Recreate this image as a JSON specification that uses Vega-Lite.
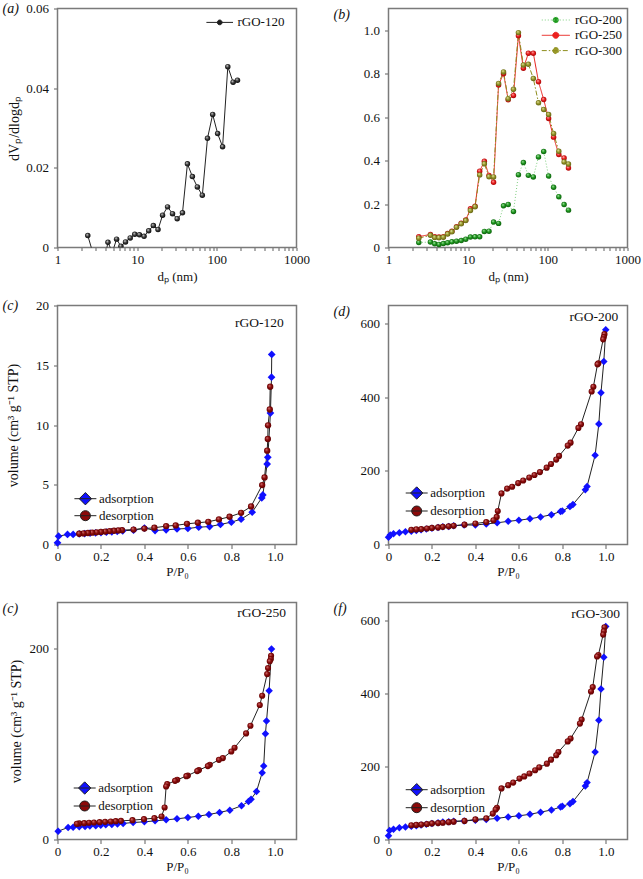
{
 "$schema": "https://vega.github.io/schema/vega-lite/v6.json",
 "background": "white",
 "padding": {"left": 1.5, "top": 0.5, "right": 1, "bottom": 0},
 "datasets": {
  "psd_a": [{"d":2.4,"v":0.003},{"d":3.36,"v":-0.007},{"d":3.8,"v":-0.004},{"d":4.3,"v":0.0013},{"d":4.88,"v":-0.0012},{"d":5.52,"v":0.0021},{"d":6.25,"v":0.0003},{"d":7.14,"v":0.0014},{"d":8.18,"v":0.0024},{"d":9.33,"v":0.0033},{"d":10.68,"v":0.0032},{"d":12.2,"v":0.0028},{"d":13.95,"v":0.0042},{"d":15.97,"v":0.0055},{"d":18.27,"v":0.0045},{"d":20.85,"v":0.0081},{"d":24.08,"v":0.0102},{"d":27.79,"v":0.0085},{"d":31.8,"v":0.0072},{"d":37.04,"v":0.0087},{"d":42.75,"v":0.021},{"d":49.35,"v":0.0178},{"d":56.98,"v":0.0152},{"d":65.77,"v":0.0131},{"d":76.34,"v":0.0274},{"d":88.7,"v":0.0334},{"d":102.3,"v":0.0286},{"d":118.1,"v":0.0253},{"d":137.4,"v":0.0454},{"d":160,"v":0.0415},{"d":181.6,"v":0.042}],
  "psd_b": [
   {"s":"rGO-200","d":2.4,"v":0.023},{"s":"rGO-200","d":3.36,"v":0.025},{"s":"rGO-200","d":3.8,"v":0.017},{"s":"rGO-200","d":4.3,"v":0.014},{"s":"rGO-200","d":4.88,"v":0.018},{"s":"rGO-200","d":5.52,"v":0.022},{"s":"rGO-200","d":6.25,"v":0.026},{"s":"rGO-200","d":7.14,"v":0.029},{"s":"rGO-200","d":8.18,"v":0.032},{"s":"rGO-200","d":9.33,"v":0.038},{"s":"rGO-200","d":10.68,"v":0.048},{"s":"rGO-200","d":12.2,"v":0.049},{"s":"rGO-200","d":13.95,"v":0.049},{"s":"rGO-200","d":15.97,"v":0.074},{"s":"rGO-200","d":18.27,"v":0.075},{"s":"rGO-200","d":20.85,"v":0.117},{"s":"rGO-200","d":24.08,"v":0.111},{"s":"rGO-200","d":27.79,"v":0.192},{"s":"rGO-200","d":31.8,"v":0.198},{"s":"rGO-200","d":37.04,"v":0.166},{"s":"rGO-200","d":42.75,"v":0.335},{"s":"rGO-200","d":49.35,"v":0.391},{"s":"rGO-200","d":56.98,"v":0.332},{"s":"rGO-200","d":65.77,"v":0.325},{"s":"rGO-200","d":76.34,"v":0.417},{"s":"rGO-200","d":88.7,"v":0.442},{"s":"rGO-200","d":102.3,"v":0.329},{"s":"rGO-200","d":118.1,"v":0.277},{"s":"rGO-200","d":137.4,"v":0.234},{"s":"rGO-200","d":160,"v":0.198},{"s":"rGO-200","d":181.6,"v":0.172},
   {"s":"rGO-250","d":2.4,"v":0.05},{"s":"rGO-250","d":3.36,"v":0.06},{"s":"rGO-250","d":3.8,"v":0.05},{"s":"rGO-250","d":4.3,"v":0.048},{"s":"rGO-250","d":4.88,"v":0.05},{"s":"rGO-250","d":5.52,"v":0.064},{"s":"rGO-250","d":6.25,"v":0.075},{"s":"rGO-250","d":7.14,"v":0.096},{"s":"rGO-250","d":8.18,"v":0.112},{"s":"rGO-250","d":9.33,"v":0.127},{"s":"rGO-250","d":10.68,"v":0.178},{"s":"rGO-250","d":12.2,"v":0.19},{"s":"rGO-250","d":13.95,"v":0.351},{"s":"rGO-250","d":15.97,"v":0.397},{"s":"rGO-250","d":18.27,"v":0.332},{"s":"rGO-250","d":20.85,"v":0.3},{"s":"rGO-250","d":24.08,"v":0.748},{"s":"rGO-250","d":27.79,"v":0.8},{"s":"rGO-250","d":31.8,"v":0.68},{"s":"rGO-250","d":37.04,"v":0.7},{"s":"rGO-250","d":42.75,"v":0.975},{"s":"rGO-250","d":49.35,"v":0.825},{"s":"rGO-250","d":56.98,"v":0.894},{"s":"rGO-250","d":65.77,"v":0.894},{"s":"rGO-250","d":76.34,"v":0.763},{"s":"rGO-250","d":88.7,"v":0.681},{"s":"rGO-250","d":102.3,"v":0.594},{"s":"rGO-250","d":118.1,"v":0.508},{"s":"rGO-250","d":137.4,"v":0.428},{"s":"rGO-250","d":160,"v":0.412},{"s":"rGO-250","d":181.6,"v":0.366},
   {"s":"rGO-300","d":2.4,"v":0.043},{"s":"rGO-300","d":3.36,"v":0.056},{"s":"rGO-300","d":3.8,"v":0.046},{"s":"rGO-300","d":4.3,"v":0.045},{"s":"rGO-300","d":4.88,"v":0.047},{"s":"rGO-300","d":5.52,"v":0.062},{"s":"rGO-300","d":6.25,"v":0.072},{"s":"rGO-300","d":7.14,"v":0.093},{"s":"rGO-300","d":8.18,"v":0.109},{"s":"rGO-300","d":9.33,"v":0.124},{"s":"rGO-300","d":10.68,"v":0.17},{"s":"rGO-300","d":12.2,"v":0.188},{"s":"rGO-300","d":13.95,"v":0.334},{"s":"rGO-300","d":15.97,"v":0.385},{"s":"rGO-300","d":18.27,"v":0.326},{"s":"rGO-300","d":20.85,"v":0.325},{"s":"rGO-300","d":24.08,"v":0.755},{"s":"rGO-300","d":27.79,"v":0.808},{"s":"rGO-300","d":31.8,"v":0.685},{"s":"rGO-300","d":37.04,"v":0.728},{"s":"rGO-300","d":42.75,"v":0.989},{"s":"rGO-300","d":49.35,"v":0.84},{"s":"rGO-300","d":56.98,"v":0.843},{"s":"rGO-300","d":65.77,"v":0.778},{"s":"rGO-300","d":76.34,"v":0.666},{"s":"rGO-300","d":88.7,"v":0.635},{"s":"rGO-300","d":102.3,"v":0.612},{"s":"rGO-300","d":118.1,"v":0.525},{"s":"rGO-300","d":137.4,"v":0.443},{"s":"rGO-300","d":160,"v":0.394},{"s":"rGO-300","d":181.6,"v":0.384}
  ],
  "iso_c": [
   {"s":"adsorption","p":0,"v":0.14},{"s":"adsorption","p":0.005,"v":0.7},{"s":"adsorption","p":0.046,"v":0.84},{"s":"adsorption","p":0.072,"v":0.84},{"s":"adsorption","p":0.1,"v":0.88},{"s":"adsorption","p":0.125,"v":0.92},{"s":"adsorption","p":0.15,"v":0.96},{"s":"adsorption","p":0.175,"v":0.98},{"s":"adsorption","p":0.2,"v":1.0},{"s":"adsorption","p":0.225,"v":1.03},{"s":"adsorption","p":0.25,"v":1.06},{"s":"adsorption","p":0.275,"v":1.1},{"s":"adsorption","p":0.3,"v":1.15},{"s":"adsorption","p":0.35,"v":1.2},{"s":"adsorption","p":0.4,"v":1.38},{"s":"adsorption","p":0.449,"v":1.17},{"s":"adsorption","p":0.5,"v":1.23},{"s":"adsorption","p":0.55,"v":1.3},{"s":"adsorption","p":0.6,"v":1.34},{"s":"adsorption","p":0.65,"v":1.45},{"s":"adsorption","p":0.7,"v":1.5},{"s":"adsorption","p":0.75,"v":1.68},{"s":"adsorption","p":0.8,"v":1.87},{"s":"adsorption","p":0.845,"v":2.12},{"s":"adsorption","p":0.896,"v":2.7},{"s":"adsorption","p":0.94,"v":3.9},{"s":"adsorption","p":0.945,"v":4.15},{"s":"adsorption","p":0.965,"v":6.73},{"s":"adsorption","p":0.968,"v":7.3},{"s":"adsorption","p":0.98,"v":11.0},{"s":"adsorption","p":0.985,"v":14.0},{"s":"adsorption","p":0.986,"v":15.9},
   {"s":"desorption","p":0.979,"v":13.2},{"s":"desorption","p":0.977,"v":11.3},{"s":"desorption","p":0.969,"v":9.97},{"s":"desorption","p":0.968,"v":8.83},{"s":"desorption","p":0.965,"v":7.85},{"s":"desorption","p":0.953,"v":5.61},{"s":"desorption","p":0.942,"v":4.97},{"s":"desorption","p":0.891,"v":3.18},{"s":"desorption","p":0.845,"v":2.65},{"s":"desorption","p":0.792,"v":2.32},{"s":"desorption","p":0.743,"v":2.1},{"s":"desorption","p":0.694,"v":1.9},{"s":"desorption","p":0.646,"v":1.82},{"s":"desorption","p":0.596,"v":1.73},{"s":"desorption","p":0.544,"v":1.6},{"s":"desorption","p":0.5,"v":1.54},{"s":"desorption","p":0.446,"v":1.4},{"s":"desorption","p":0.4,"v":1.33},{"s":"desorption","p":0.35,"v":1.25},{"s":"desorption","p":0.297,"v":1.2},{"s":"desorption","p":0.28,"v":1.18},{"s":"desorption","p":0.26,"v":1.15},{"s":"desorption","p":0.24,"v":1.12},{"s":"desorption","p":0.22,"v":1.08},{"s":"desorption","p":0.2,"v":1.05},{"s":"desorption","p":0.18,"v":1.02},{"s":"desorption","p":0.16,"v":0.99},{"s":"desorption","p":0.14,"v":0.96},{"s":"desorption","p":0.12,"v":0.93},{"s":"desorption","p":0.1,"v":0.9}
  ],
  "iso_d": [
   {"s":"adsorption","p":0,"v":20},{"s":"adsorption","p":0.008,"v":26},{"s":"adsorption","p":0.023,"v":29},{"s":"adsorption","p":0.05,"v":32},{"s":"adsorption","p":0.078,"v":34.5},{"s":"adsorption","p":0.105,"v":36},{"s":"adsorption","p":0.128,"v":38},{"s":"adsorption","p":0.15,"v":40},{"s":"adsorption","p":0.174,"v":42},{"s":"adsorption","p":0.2,"v":44.5},{"s":"adsorption","p":0.228,"v":46},{"s":"adsorption","p":0.25,"v":48},{"s":"adsorption","p":0.277,"v":49},{"s":"adsorption","p":0.3,"v":51},{"s":"adsorption","p":0.348,"v":53},{"s":"adsorption","p":0.4,"v":53},{"s":"adsorption","p":0.45,"v":56},{"s":"adsorption","p":0.5,"v":59},{"s":"adsorption","p":0.551,"v":63},{"s":"adsorption","p":0.6,"v":66},{"s":"adsorption","p":0.651,"v":70},{"s":"adsorption","p":0.7,"v":75},{"s":"adsorption","p":0.75,"v":81},{"s":"adsorption","p":0.792,"v":90},{"s":"adsorption","p":0.8,"v":91},{"s":"adsorption","p":0.835,"v":103},{"s":"adsorption","p":0.849,"v":109},{"s":"adsorption","p":0.906,"v":149},{"s":"adsorption","p":0.914,"v":158},{"s":"adsorption","p":0.951,"v":243},{"s":"adsorption","p":0.968,"v":328},{"s":"adsorption","p":0.978,"v":413},{"s":"adsorption","p":0.991,"v":498},{"s":"adsorption","p":1.0,"v":584},
   {"s":"desorption","p":0.994,"v":572},{"s":"desorption","p":0.991,"v":564},{"s":"desorption","p":0.988,"v":558},{"s":"desorption","p":0.966,"v":493},{"s":"desorption","p":0.962,"v":490},{"s":"desorption","p":0.943,"v":429},{"s":"desorption","p":0.935,"v":416},{"s":"desorption","p":0.886,"v":327},{"s":"desorption","p":0.874,"v":317},{"s":"desorption","p":0.838,"v":277},{"s":"desorption","p":0.825,"v":269},{"s":"desorption","p":0.785,"v":241},{"s":"desorption","p":0.772,"v":231},{"s":"desorption","p":0.748,"v":219},{"s":"desorption","p":0.728,"v":209},{"s":"desorption","p":0.697,"v":197},{"s":"desorption","p":0.672,"v":189},{"s":"desorption","p":0.648,"v":182},{"s":"desorption","p":0.62,"v":174},{"s":"desorption","p":0.597,"v":167},{"s":"desorption","p":0.569,"v":157},{"s":"desorption","p":0.546,"v":152},{"s":"desorption","p":0.52,"v":139},{"s":"desorption","p":0.503,"v":91},{"s":"desorption","p":0.498,"v":75},{"s":"desorption","p":0.483,"v":66},{"s":"desorption","p":0.45,"v":61},{"s":"desorption","p":0.4,"v":57},{"s":"desorption","p":0.35,"v":54},{"s":"desorption","p":0.3,"v":51},{"s":"desorption","p":0.277,"v":49.5},{"s":"desorption","p":0.25,"v":48},{"s":"desorption","p":0.228,"v":46.5},{"s":"desorption","p":0.2,"v":45},{"s":"desorption","p":0.177,"v":43.5},{"s":"desorption","p":0.151,"v":42},{"s":"desorption","p":0.128,"v":41},{"s":"desorption","p":0.105,"v":40}
  ],
  "iso_e": [
   {"s":"adsorption","p":0.003,"v":8.7},{"s":"adsorption","p":0.049,"v":12.6},{"s":"adsorption","p":0.072,"v":12.9},{"s":"adsorption","p":0.1,"v":13.3},{"s":"adsorption","p":0.127,"v":13.6},{"s":"adsorption","p":0.149,"v":14},{"s":"adsorption","p":0.176,"v":14.3},{"s":"adsorption","p":0.199,"v":15},{"s":"adsorption","p":0.222,"v":15.4},{"s":"adsorption","p":0.25,"v":15.7},{"s":"adsorption","p":0.276,"v":16.1},{"s":"adsorption","p":0.302,"v":16.8},{"s":"adsorption","p":0.348,"v":17.8},{"s":"adsorption","p":0.4,"v":18.5},{"s":"adsorption","p":0.449,"v":19.5},{"s":"adsorption","p":0.5,"v":20.6},{"s":"adsorption","p":0.55,"v":21.6},{"s":"adsorption","p":0.6,"v":23},{"s":"adsorption","p":0.648,"v":24.4},{"s":"adsorption","p":0.697,"v":26.2},{"s":"adsorption","p":0.746,"v":28.3},{"s":"adsorption","p":0.793,"v":30.7},{"s":"adsorption","p":0.847,"v":35.3},{"s":"adsorption","p":0.879,"v":39.8},{"s":"adsorption","p":0.891,"v":42.2},{"s":"adsorption","p":0.916,"v":50.3},{"s":"adsorption","p":0.942,"v":69.8},{"s":"adsorption","p":0.949,"v":76.8},{"s":"adsorption","p":0.957,"v":110.6},{"s":"adsorption","p":0.962,"v":123.9},{"s":"adsorption","p":0.974,"v":155.7},{"s":"adsorption","p":0.985,"v":199.3},
   {"s":"desorption","p":0.983,"v":192.3},{"s":"desorption","p":0.982,"v":188.8},{"s":"desorption","p":0.977,"v":186.4},{"s":"desorption","p":0.969,"v":179.4},{"s":"desorption","p":0.965,"v":173.1},{"s":"desorption","p":0.942,"v":150.4},{"s":"desorption","p":0.931,"v":140.7},{"s":"desorption","p":0.888,"v":119},{"s":"desorption","p":0.868,"v":111},{"s":"desorption","p":0.815,"v":96},{"s":"desorption","p":0.8,"v":92.1},{"s":"desorption","p":0.761,"v":85.2},{"s":"desorption","p":0.743,"v":83.4},{"s":"desorption","p":0.701,"v":78.2},{"s":"desorption","p":0.692,"v":76.8},{"s":"desorption","p":0.651,"v":72.6},{"s":"desorption","p":0.643,"v":71.6},{"s":"desorption","p":0.6,"v":67},{"s":"desorption","p":0.593,"v":66.3},{"s":"desorption","p":0.551,"v":62.5},{"s":"desorption","p":0.541,"v":61.4},{"s":"desorption","p":0.505,"v":57.9},{"s":"desorption","p":0.5,"v":55.5},{"s":"desorption","p":0.493,"v":33.5},{"s":"desorption","p":0.479,"v":24.1},{"s":"desorption","p":0.446,"v":22.3},{"s":"desorption","p":0.398,"v":21.3},{"s":"desorption","p":0.345,"v":20.2},{"s":"desorption","p":0.292,"v":19.5},{"s":"desorption","p":0.268,"v":19.2},{"s":"desorption","p":0.245,"v":18.8},{"s":"desorption","p":0.219,"v":18.5},{"s":"desorption","p":0.194,"v":18.1},{"s":"desorption","p":0.168,"v":17.8},{"s":"desorption","p":0.145,"v":17.5},{"s":"desorption","p":0.123,"v":17.1},{"s":"desorption","p":0.1,"v":16.8},{"s":"desorption","p":0.089,"v":16.4}
  ],
  "iso_f": [
   {"s":"adsorption","p":0,"v":10},{"s":"adsorption","p":0.005,"v":25},{"s":"adsorption","p":0.023,"v":28},{"s":"adsorption","p":0.05,"v":32},{"s":"adsorption","p":0.078,"v":34.5},{"s":"adsorption","p":0.105,"v":36},{"s":"adsorption","p":0.128,"v":38},{"s":"adsorption","p":0.15,"v":40},{"s":"adsorption","p":0.174,"v":42},{"s":"adsorption","p":0.2,"v":44},{"s":"adsorption","p":0.228,"v":46},{"s":"adsorption","p":0.25,"v":48},{"s":"adsorption","p":0.277,"v":49},{"s":"adsorption","p":0.3,"v":50},{"s":"adsorption","p":0.348,"v":51},{"s":"adsorption","p":0.4,"v":53},{"s":"adsorption","p":0.45,"v":55},{"s":"adsorption","p":0.5,"v":58},{"s":"adsorption","p":0.551,"v":62},{"s":"adsorption","p":0.6,"v":65},{"s":"adsorption","p":0.651,"v":69},{"s":"adsorption","p":0.7,"v":75},{"s":"adsorption","p":0.75,"v":81},{"s":"adsorption","p":0.792,"v":89},{"s":"adsorption","p":0.8,"v":91},{"s":"adsorption","p":0.835,"v":98},{"s":"adsorption","p":0.849,"v":104},{"s":"adsorption","p":0.906,"v":147},{"s":"adsorption","p":0.914,"v":156},{"s":"adsorption","p":0.951,"v":240},{"s":"adsorption","p":0.968,"v":327},{"s":"adsorption","p":0.978,"v":413},{"s":"adsorption","p":0.991,"v":500},{"s":"adsorption","p":1.0,"v":584},
   {"s":"desorption","p":0.994,"v":582},{"s":"desorption","p":0.991,"v":571},{"s":"desorption","p":0.988,"v":562},{"s":"desorption","p":0.966,"v":506},{"s":"desorption","p":0.96,"v":502},{"s":"desorption","p":0.94,"v":418},{"s":"desorption","p":0.932,"v":406},{"s":"desorption","p":0.889,"v":329},{"s":"desorption","p":0.881,"v":318},{"s":"desorption","p":0.838,"v":277},{"s":"desorption","p":0.825,"v":269},{"s":"desorption","p":0.782,"v":240},{"s":"desorption","p":0.772,"v":231},{"s":"desorption","p":0.748,"v":219},{"s":"desorption","p":0.729,"v":208},{"s":"desorption","p":0.694,"v":198},{"s":"desorption","p":0.675,"v":190},{"s":"desorption","p":0.649,"v":181},{"s":"desorption","p":0.625,"v":173},{"s":"desorption","p":0.603,"v":167},{"s":"desorption","p":0.574,"v":156},{"s":"desorption","p":0.551,"v":149},{"s":"desorption","p":0.52,"v":140},{"s":"desorption","p":0.499,"v":87},{"s":"desorption","p":0.493,"v":82},{"s":"desorption","p":0.48,"v":71},{"s":"desorption","p":0.45,"v":58},{"s":"desorption","p":0.4,"v":55},{"s":"desorption","p":0.35,"v":51},{"s":"desorption","p":0.3,"v":49},{"s":"desorption","p":0.277,"v":47.5},{"s":"desorption","p":0.25,"v":46},{"s":"desorption","p":0.228,"v":45},{"s":"desorption","p":0.2,"v":44},{"s":"desorption","p":0.177,"v":42.5},{"s":"desorption","p":0.151,"v":41},{"s":"desorption","p":0.128,"v":40},{"s":"desorption","p":0.105,"v":39}
  ]
 },
 "columns": 2,
 "spacing": {"row": 58, "column": 92},
 "bounds": "flush",
 "resolve": {"scale": {"color": "independent", "strokeDash": "independent"}, "legend": {"color": "independent", "strokeDash": "independent"}},
 "concat": [
    {
     "width": 239, "height": 239,
     "title": {"text": "(a)", "anchor": "start", "frame": "group", "dx": -55, "dy": 20, "offset": 0, "baseline": "middle"},
     "data": {"name": "psd_a"},
     "layer": [
      {
       "mark": {"type": "line", "strokeWidth": 1, "clip": true},
       "encoding": {
        "x": {"field": "d", "type": "quantitative", "scale": {"type": "log", "domain": [1, 1000], "nice": false},
         "axis": {"title": "dₚ (nm)", "values": [1,2,3,4,5,6,7,8,9,10,20,30,40,50,60,70,80,90,100,200,300,400,500,600,700,800,900,1000], "labelExpr": "indexof([1,10,100,1000], datum.value) >= 0 ? format(datum.value, 'd') : ''", "tickSize": 3, "labelFlush": false, "labelPadding": 3, "titlePadding": 4}},
        "y": {"field": "v", "type": "quantitative", "scale": {"domain": [0, 0.06], "nice": false, "zero": false},
         "axis": {"title": "dVₚ/dlogdₚ", "titleFontSize": 14, "values": [0,0.02,0.04,0.06], "labelExpr": "datum.value == 0 ? '0' : format(datum.value, '.2f')", "tickSize": 4, "labelPadding": 5, "titlePadding": 4}},
        "color": {"datum": "rGO-120", "type": "nominal", "scale": {"domain": ["rGO-120"], "range": ["#222222"]},
         "legend": {"orient": "none", "legendX": 154.7, "legendY": 6.4, "title": null, "symbolSize": 196, "labelOffset": 10.3, "padding": 0,
          "encode": {"symbols": {"update": {"shape": {"value": "M-1.9,0H1.9M-0.34,0A0.34,0.34,0,1,0,0.34,0A0.34,0.34,0,1,0,-0.34,0Z"}, "fill": {"value": "#1a1a1a"}, "stroke": {"value": "#222222"}, "strokeWidth": {"value": 1}}}}}}
       }
      },
      {
       "mark": {"type": "point", "filled": true, "size": 30, "clip": true, "opacity": 1, "strokeWidth": 0,
        "fill": {"gradient": "radial", "x1": 0.35, "y1": 0.3, "r1": 0, "x2": 0.5, "y2": 0.5, "r2": 0.55, "stops": [{"offset": 0, "color": "#ffffff"}, {"offset": 0.45, "color": "#444444"}, {"offset": 1, "color": "#000000"}]}},
       "encoding": {
        "x": {"field": "d", "type": "quantitative"},
        "y": {"field": "v", "type": "quantitative"}
       }
      }
     ]
    },
    {
     "width": 239, "height": 239,
     "title": {"text": "(b)", "anchor": "start", "frame": "group", "dx": -55, "dy": 20, "offset": 0, "baseline": "middle"},
     "data": {"name": "psd_b"},
     "layer": [
      {
       "mark": {"type": "line", "strokeWidth": 1},
       "encoding": {
        "x": {"field": "d", "type": "quantitative", "scale": {"type": "log", "domain": [1, 1000], "nice": false},
         "axis": {"title": "dₚ (nm)", "values": [1,2,3,4,5,6,7,8,9,10,20,30,40,50,60,70,80,90,100,200,300,400,500,600,700,800,900,1000], "labelExpr": "indexof([1,10,100,1000], datum.value) >= 0 ? format(datum.value, 'd') : ''", "tickSize": 3, "labelFlush": false, "labelPadding": 3, "titlePadding": 4}},
        "y": {"field": "v", "type": "quantitative", "scale": {"domain": [0, 1.1], "nice": false, "zero": false},
         "axis": {"title": null, "values": [0,0.2,0.4,0.6,0.8,1.0], "labelExpr": "datum.value == 0 ? '0' : format(datum.value, '.1f')", "tickSize": 4, "labelPadding": 5}},
        "color": {"field": "s", "type": "nominal", "scale": {"domain": ["rGO-200", "rGO-250", "rGO-300"], "range": ["#7fcf7f", "#e8201c", "#8e8e1e"]},
         "legend": {"orient": "none", "legendX": 159.3, "legendY": 3.5, "title": null, "symbolSize": 225, "labelOffset": 11.2, "rowPadding": 0.3, "padding": 0,
          "encode": {"symbols": {"update": {"shape": {"value": "M-1.87,0H1.87M-0.4,0A0.4,0.4,0,1,0,0.4,0A0.4,0.4,0,1,0,-0.4,0Z"}, "fill": {"signal": "datum.value === 'rGO-200' ? '#1f9a1f' : datum.value === 'rGO-250' ? '#ee2020' : '#9a9a2a'"}, "strokeWidth": {"value": 1}}}}}},
        "strokeDash": {"field": "s", "type": "nominal", "scale": {"domain": ["rGO-200", "rGO-250", "rGO-300"], "range": [[1, 2], [1, 0], [5, 2, 1.5, 2]]},
         "legend": {"orient": "none", "legendX": 159.3, "legendY": 3.5, "title": null, "symbolSize": 225, "labelOffset": 11.2, "rowPadding": 0.3, "padding": 0}}
       }
      },
      {
       "transform": [{"filter": "datum.s == 'rGO-200'"}],
       "mark": {"type": "point", "filled": true, "size": 30, "opacity": 1, "strokeWidth": 0,
        "fill": {"gradient": "radial", "x1": 0.35, "y1": 0.3, "r1": 0, "x2": 0.5, "y2": 0.5, "r2": 0.55, "stops": [{"offset": 0, "color": "#d8f5d8"}, {"offset": 0.45, "color": "#22a022"}, {"offset": 1, "color": "#0a560a"}]}},
       "encoding": {
        "x": {"field": "d", "type": "quantitative"},
        "y": {"field": "v", "type": "quantitative"}
       }
      },
      {
       "transform": [{"filter": "datum.s == 'rGO-250'"}],
       "mark": {"type": "point", "filled": true, "size": 30, "opacity": 1, "strokeWidth": 0,
        "fill": {"gradient": "radial", "x1": 0.35, "y1": 0.3, "r1": 0, "x2": 0.5, "y2": 0.5, "r2": 0.55, "stops": [{"offset": 0, "color": "#ffe0e0"}, {"offset": 0.45, "color": "#f02424"}, {"offset": 1, "color": "#a00000"}]}},
       "encoding": {
        "x": {"field": "d", "type": "quantitative"},
        "y": {"field": "v", "type": "quantitative"}
       }
      },
      {
       "transform": [{"filter": "datum.s == 'rGO-300'"}],
       "mark": {"type": "point", "filled": true, "size": 30, "opacity": 1, "strokeWidth": 0,
        "fill": {"gradient": "radial", "x1": 0.35, "y1": 0.3, "r1": 0, "x2": 0.5, "y2": 0.5, "r2": 0.55, "stops": [{"offset": 0, "color": "#f4f4c8"}, {"offset": 0.45, "color": "#9c9c2c"}, {"offset": 1, "color": "#5a5a10"}]}},
       "encoding": {
        "x": {"field": "d", "type": "quantitative"},
        "y": {"field": "v", "type": "quantitative"}
       }
      }
     ]
    },
    {
     "width": 239, "height": 239,
     "title": {"text": "(c)", "anchor": "start", "frame": "group", "dx": -55, "dy": 20, "offset": 0, "baseline": "middle"},
     "data": {"name": "iso_c"},
     "layer": [
      {
       "mark": {"type": "line", "strokeWidth": 1},
       "encoding": {
        "x": {"field": "p", "type": "quantitative", "scale": {"domain": [0, 1.1], "nice": false, "zero": false},
         "axis": {"title": "P/P₀", "values": [0,0.2,0.4,0.6,0.8,1.0], "labelExpr": "datum.value == 0 ? '0' : format(datum.value, '.1f')", "tickSize": 4, "labelFlush": false, "labelPadding": 2, "titlePadding": 2}},
        "y": {"field": "v", "type": "quantitative", "scale": {"domain": [0, 20], "nice": false},
         "axis": {"title": "volume (cm³ g⁻¹ STP)", "titleFontSize": 14, "values": [0,5,10,15,20], "format": "d", "tickSize": 4, "labelPadding": 5, "titlePadding": 15}},
        "color": {"field": "s", "type": "nominal", "scale": {"domain": ["adsorption", "desorption"], "range": ["#222222", "#222222"]},
         "legend": {"orient": "none", "legendX": 20.9, "legendY": 186.2, "title": null, "symbolSize": 169, "labelOffset": 6.5, "rowPadding": 0, "padding": 0,
          "encode": {"symbols": {"update": {"shape": {"signal": "datum.value === 'adsorption' ? 'M-1.69,0H1.69M-0.95,0L0,-0.95L0.95,0L0,0.95Z' : 'M-1.69,0H1.69M-0.77,0A0.77,0.77,0,1,0,0.77,0A0.77,0.77,0,1,0,-0.77,0Z'"}, "fill": {"signal": "datum.value === 'adsorption' ? '#1010ff' : '#8b0a0a'"}, "stroke": {"value": "#333333"}, "strokeWidth": {"value": 1}}}}}},
        "order": {"value": null}
       }
      },
      {
       "transform": [{"filter": "datum.s == 'adsorption'"}],
       "mark": {"type": "point", "shape": "diamond", "filled": true, "size": 60, "opacity": 1, "fill": "#1010ff", "strokeWidth": 0},
       "encoding": {
        "x": {"field": "p", "type": "quantitative"},
        "y": {"field": "v", "type": "quantitative"}
       }
      },
      {
       "transform": [{"filter": "datum.s == 'desorption'"}],
       "mark": {"type": "point", "shape": "circle", "filled": true, "size": 40, "opacity": 1, "strokeWidth": 0,
        "fill": {"gradient": "radial", "x1": 0.35, "y1": 0.3, "r1": 0, "x2": 0.5, "y2": 0.5, "r2": 0.55, "stops": [{"offset": 0, "color": "#d88080"}, {"offset": 0.5, "color": "#8b0a0a"}, {"offset": 1, "color": "#5a0000"}]}},
       "encoding": {
        "x": {"field": "p", "type": "quantitative"},
        "y": {"field": "v", "type": "quantitative"}
       }
      },
      {
       "data": {"values": [{"label": "rGO-120"}]},
       "mark": {"type": "text", "align": "right", "baseline": "middle", "fontSize": 13.5, "font": "Liberation Serif", "color": "#111111"},
       "encoding": {
        "x": {"datum": 1.041, "type": "quantitative"},
        "y": {"datum": 18.5, "type": "quantitative"},
        "text": {"field": "label", "type": "nominal"}
       }
      }
     ]
    },
    {
     "width": 239, "height": 239,
     "title": {"text": "(d)", "anchor": "start", "frame": "group", "dx": -55, "dy": 20, "offset": 0, "baseline": "middle"},
     "data": {"name": "iso_d"},
     "layer": [
      {
       "mark": {"type": "line", "strokeWidth": 1},
       "encoding": {
        "x": {"field": "p", "type": "quantitative", "scale": {"domain": [0, 1.1], "nice": false, "zero": false},
         "axis": {"title": "P/P₀", "values": [0,0.2,0.4,0.6,0.8,1.0], "labelExpr": "datum.value == 0 ? '0' : format(datum.value, '.1f')", "tickSize": 4, "labelFlush": false, "labelPadding": 2, "titlePadding": 2}},
        "y": {"field": "v", "type": "quantitative", "scale": {"domain": [0, 650], "nice": false},
         "axis": {"title": null, "values": [0,200,400,600], "format": "d", "tickSize": 4, "labelPadding": 5}},
        "color": {"field": "s", "type": "nominal", "scale": {"domain": ["adsorption", "desorption"], "range": ["#222222", "#222222"]},
         "legend": {"orient": "none", "legendX": 21.2, "legendY": 180.5, "title": null, "symbolSize": 169, "labelOffset": 6.5, "rowPadding": 1, "padding": 0,
          "encode": {"symbols": {"update": {"shape": {"signal": "datum.value === 'adsorption' ? 'M-1.69,0H1.69M-0.95,0L0,-0.95L0.95,0L0,0.95Z' : 'M-1.69,0H1.69M-0.77,0A0.77,0.77,0,1,0,0.77,0A0.77,0.77,0,1,0,-0.77,0Z'"}, "fill": {"signal": "datum.value === 'adsorption' ? '#1010ff' : '#8b0a0a'"}, "stroke": {"value": "#333333"}, "strokeWidth": {"value": 1}}}}}},
        "order": {"value": null}
       }
      },
      {
       "transform": [{"filter": "datum.s == 'adsorption'"}],
       "mark": {"type": "point", "shape": "diamond", "filled": true, "size": 56, "opacity": 1, "fill": "#1010ff", "strokeWidth": 0},
       "encoding": {
        "x": {"field": "p", "type": "quantitative"},
        "y": {"field": "v", "type": "quantitative"}
       }
      },
      {
       "transform": [{"filter": "datum.s == 'desorption'"}],
       "mark": {"type": "point", "shape": "circle", "filled": true, "size": 38, "opacity": 1, "strokeWidth": 0,
        "fill": {"gradient": "radial", "x1": 0.35, "y1": 0.3, "r1": 0, "x2": 0.5, "y2": 0.5, "r2": 0.55, "stops": [{"offset": 0, "color": "#d88080"}, {"offset": 0.5, "color": "#8b0a0a"}, {"offset": 1, "color": "#5a0000"}]}},
       "encoding": {
        "x": {"field": "p", "type": "quantitative"},
        "y": {"field": "v", "type": "quantitative"}
       }
      },
      {
       "data": {"values": [{"label": "rGO-200"}]},
       "mark": {"type": "text", "align": "right", "baseline": "middle", "fontSize": 13.5, "font": "Liberation Serif", "color": "#111111"},
       "encoding": {
        "x": {"datum": 1.058, "type": "quantitative"},
        "y": {"datum": 619, "type": "quantitative"},
        "text": {"field": "label", "type": "nominal"}
       }
      }
     ]
    },
    {
     "width": 239, "height": 237,
     "title": {"text": "(c)", "anchor": "start", "frame": "group", "dx": -55, "dy": 20, "offset": 0, "baseline": "middle"},
     "data": {"name": "iso_e"},
     "layer": [
      {
       "mark": {"type": "line", "strokeWidth": 1},
       "encoding": {
        "x": {"field": "p", "type": "quantitative", "scale": {"domain": [0, 1.1], "nice": false, "zero": false},
         "axis": {"title": "P/P₀", "values": [0,0.2,0.4,0.6,0.8,1.0], "labelExpr": "datum.value == 0 ? '0' : format(datum.value, '.1f')", "tickSize": 4, "labelFlush": false, "labelPadding": 2, "titlePadding": 2}},
        "y": {"field": "v", "type": "quantitative", "scale": {"domain": [0, 248], "nice": false},
         "axis": {"title": "volume (cm³ g⁻¹ STP)", "titleFontSize": 14, "values": [0,200], "format": "d", "tickSize": 4, "labelPadding": 5, "titlePadding": 6}},
        "color": {"field": "s", "type": "nominal", "scale": {"domain": ["adsorption", "desorption"], "range": ["#222222", "#222222"]},
         "legend": {"orient": "none", "legendX": 20.2, "legendY": 178.5, "title": null, "symbolSize": 169, "labelOffset": 6.5, "rowPadding": 1, "padding": 0,
          "encode": {"symbols": {"update": {"shape": {"signal": "datum.value === 'adsorption' ? 'M-1.69,0H1.69M-0.95,0L0,-0.95L0.95,0L0,0.95Z' : 'M-1.69,0H1.69M-0.77,0A0.77,0.77,0,1,0,0.77,0A0.77,0.77,0,1,0,-0.77,0Z'"}, "fill": {"signal": "datum.value === 'adsorption' ? '#1010ff' : '#8b0a0a'"}, "stroke": {"value": "#333333"}, "strokeWidth": {"value": 1}}}}}},
        "order": {"value": null}
       }
      },
      {
       "transform": [{"filter": "datum.s == 'adsorption'"}],
       "mark": {"type": "point", "shape": "diamond", "filled": true, "size": 56, "opacity": 1, "fill": "#1010ff", "strokeWidth": 0},
       "encoding": {
        "x": {"field": "p", "type": "quantitative"},
        "y": {"field": "v", "type": "quantitative"}
       }
      },
      {
       "transform": [{"filter": "datum.s == 'desorption'"}],
       "mark": {"type": "point", "shape": "circle", "filled": true, "size": 38, "opacity": 1, "strokeWidth": 0,
        "fill": {"gradient": "radial", "x1": 0.35, "y1": 0.3, "r1": 0, "x2": 0.5, "y2": 0.5, "r2": 0.55, "stops": [{"offset": 0, "color": "#d88080"}, {"offset": 0.5, "color": "#8b0a0a"}, {"offset": 1, "color": "#5a0000"}]}},
       "encoding": {
        "x": {"field": "p", "type": "quantitative"},
        "y": {"field": "v", "type": "quantitative"}
       }
      },
      {
       "data": {"values": [{"label": "rGO-250"}]},
       "mark": {"type": "text", "align": "right", "baseline": "middle", "fontSize": 13.5, "font": "Liberation Serif", "color": "#111111"},
       "encoding": {
        "x": {"datum": 1.052, "type": "quantitative"},
        "y": {"datum": 237, "type": "quantitative"},
        "text": {"field": "label", "type": "nominal"}
       }
      }
     ]
    },
    {
     "width": 239, "height": 237,
     "title": {"text": "(f)", "anchor": "start", "frame": "group", "dx": -55, "dy": 20, "offset": 0, "baseline": "middle"},
     "data": {"name": "iso_f"},
     "layer": [
      {
       "mark": {"type": "line", "strokeWidth": 1},
       "encoding": {
        "x": {"field": "p", "type": "quantitative", "scale": {"domain": [0, 1.1], "nice": false, "zero": false},
         "axis": {"title": "P/P₀", "values": [0,0.2,0.4,0.6,0.8,1.0], "labelExpr": "datum.value == 0 ? '0' : format(datum.value, '.1f')", "tickSize": 4, "labelFlush": false, "labelPadding": 2, "titlePadding": 2}},
        "y": {"field": "v", "type": "quantitative", "scale": {"domain": [0, 650], "nice": false},
         "axis": {"title": null, "values": [0,200,400,600], "format": "d", "tickSize": 4, "labelPadding": 5}},
        "color": {"field": "s", "type": "nominal", "scale": {"domain": ["adsorption", "desorption"], "range": ["#222222", "#222222"]},
         "legend": {"orient": "none", "legendX": 21.2, "legendY": 180.2, "title": null, "symbolSize": 169, "labelOffset": 6.5, "rowPadding": 1, "padding": 0,
          "encode": {"symbols": {"update": {"shape": {"signal": "datum.value === 'adsorption' ? 'M-1.69,0H1.69M-0.95,0L0,-0.95L0.95,0L0,0.95Z' : 'M-1.69,0H1.69M-0.77,0A0.77,0.77,0,1,0,0.77,0A0.77,0.77,0,1,0,-0.77,0Z'"}, "fill": {"signal": "datum.value === 'adsorption' ? '#1010ff' : '#8b0a0a'"}, "stroke": {"value": "#333333"}, "strokeWidth": {"value": 1}}}}}},
        "order": {"value": null}
       }
      },
      {
       "transform": [{"filter": "datum.s == 'adsorption'"}],
       "mark": {"type": "point", "shape": "diamond", "filled": true, "size": 56, "opacity": 1, "fill": "#1010ff", "strokeWidth": 0},
       "encoding": {
        "x": {"field": "p", "type": "quantitative"},
        "y": {"field": "v", "type": "quantitative"}
       }
      },
      {
       "transform": [{"filter": "datum.s == 'desorption'"}],
       "mark": {"type": "point", "shape": "circle", "filled": true, "size": 38, "opacity": 1, "strokeWidth": 0,
        "fill": {"gradient": "radial", "x1": 0.35, "y1": 0.3, "r1": 0, "x2": 0.5, "y2": 0.5, "r2": 0.55, "stops": [{"offset": 0, "color": "#d88080"}, {"offset": 0.5, "color": "#8b0a0a"}, {"offset": 1, "color": "#5a0000"}]}},
       "encoding": {
        "x": {"field": "p", "type": "quantitative"},
        "y": {"field": "v", "type": "quantitative"}
       }
      },
      {
       "data": {"values": [{"label": "rGO-300"}]},
       "mark": {"type": "text", "align": "right", "baseline": "middle", "fontSize": 13.5, "font": "Liberation Serif", "color": "#111111"},
       "encoding": {
        "x": {"datum": 1.066, "type": "quantitative"},
        "y": {"datum": 618, "type": "quantitative"},
        "text": {"field": "label", "type": "nominal"}
       }
      }
     ]
    }
 ],
 "config": {
  "font": "Liberation Serif",
  "view": {"stroke": "#7a7a7a", "strokeWidth": 1.5},
  "axis": {"labelFont": "Liberation Serif", "labelFontSize": 13, "labelColor": "#111111", "titleFont": "Liberation Serif", "titleFontSize": 13, "titleFontWeight": "normal", "titleColor": "#111111", "domain": false, "grid": false, "tickColor": "#7a7a7a", "tickWidth": 1.2},
  "legend": {"labelFont": "Liberation Serif", "labelFontSize": 13, "labelColor": "#111111", "padding": 0},
  "title": {"font": "Liberation Serif", "fontSize": 14, "fontWeight": "normal", "fontStyle": "italic", "color": "#111111"}
 }
}
